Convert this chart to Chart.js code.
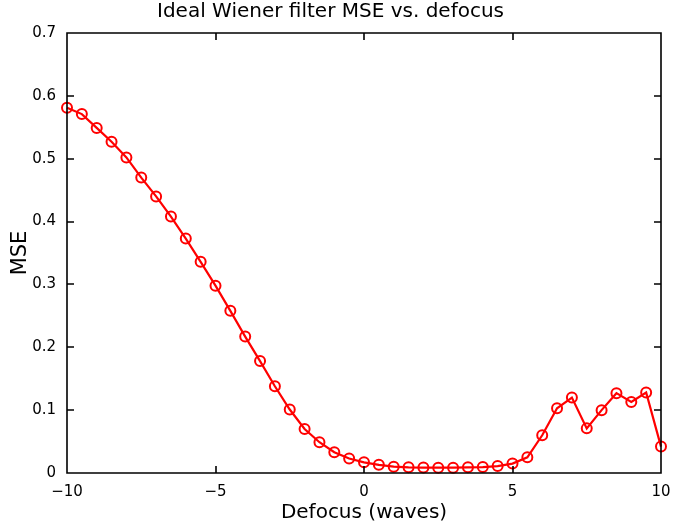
<!DOCTYPE html>
<html>
<head>
<meta charset="utf-8">
<script src="https://cdn.jsdelivr.net/npm/chart.js@4/dist/chart.umd.min.js"></script>
<style>
  html, body { margin: 0; padding: 0; background: #fff; }
  #wrap { width: 673px; height: 525px; }
</style>
</head>
<body>
<div id="wrap"><canvas id="mse-chart" width="673" height="525"></canvas></div>
<script>
// data
const defocus = [
  -10, -9.5, -9, -8.5, -8, -7.5, -7, -6.5, -6, -5.5, -5, -4.5, -4, -3.5,
  -3, -2.5, -2, -1.5, -1, -0.5, 0, 0.5, 1, 1.5, 2, 2.5, 3, 3.5, 4, 4.5,
  5, 5.5, 6, 6.5, 7, 7.5, 8, 8.5, 9, 9.5, 10,
];
const mse = [
  0.581, 0.571, 0.549, 0.527, 0.502, 0.470, 0.440, 0.408, 0.373, 0.336,
  0.298, 0.258, 0.217, 0.178, 0.138, 0.101, 0.070, 0.049, 0.033, 0.023,
  0.017, 0.013, 0.010, 0.009, 0.0087, 0.0085, 0.0085, 0.009, 0.0095, 0.011,
  0.015, 0.025, 0.060, 0.103, 0.120, 0.071, 0.100, 0.127, 0.113, 0.128,
  0.042,
];
const xTicks = [-10, -5, 0, 5, 10];
const yTicks = [0, 0.1, 0.2, 0.3, 0.4, 0.5, 0.6, 0.7];

const font = "'DejaVu Sans', sans-serif";

// matlab-ish box with inward ticks
const boxPlugin = {
  id: "box",
  afterDraw(chart) {
    const ctx = chart.ctx;
    const a = chart.chartArea;
    const xs = chart.scales.x;
    const ys = chart.scales.y;
    ctx.save();
    ctx.strokeStyle = "#000";
    ctx.lineWidth = 1.6;
    ctx.beginPath();
    ctx.rect(a.left, a.top, a.right - a.left, a.bottom - a.top);
    xTicks.forEach((v) => {
      const px = Math.round(xs.getPixelForValue(v));
      ctx.moveTo(px, a.bottom);
      ctx.lineTo(px, a.bottom - 7);
      ctx.moveTo(px, a.top);
      ctx.lineTo(px, a.top + 7);
    });
    yTicks.forEach((v) => {
      const py = Math.round(ys.getPixelForValue(v));
      ctx.moveTo(a.left, py);
      ctx.lineTo(a.left + 7, py);
      ctx.moveTo(a.right, py);
      ctx.lineTo(a.right - 7, py);
    });
    ctx.stroke();
    ctx.restore();
  },
};

const mseChart = new Chart(document.getElementById("mse-chart"), {
  type: "line",
  data: {
    datasets: [
      {
        data: defocus.map((d, i) => ({ x: d, y: mse[i] })),
        borderColor: "#ff0000",
        borderWidth: 2.2,
        pointStyle: "circle",
        pointRadius: 5,
        pointBorderWidth: 2,
        pointBorderColor: "#ff0000",
        pointBackgroundColor: "rgba(0,0,0,0)",
        tension: 0,
        clip: false,
      },
    ],
  },
  options: {
    responsive: false,
    animation: false,
    layout: { padding: { top: 0, right: 12, left: 0, bottom: 0 } },
    plugins: {
      legend: { display: false },
      tooltip: { enabled: false },
      title: {
        display: true,
        text: "Ideal Wiener filter MSE vs. defocus",
        color: "#000",
        font: { family: font, size: 20, weight: "normal" },
        padding: { top: 0, bottom: 9 },
      },
    },
    scales: {
      x: {
        type: "linear",
        min: -10,
        max: 10,
        afterBuildTicks: (s) => { s.ticks = xTicks.map((v) => ({ value: v })); },
        afterFit: (s) => {
          s.height = 52;
          s.paddingLeft = 0;
          s.paddingRight = 0;
        },
        grid: { display: false },
        border: { display: false },
        ticks: {
          color: "#000",
          font: { family: font, size: 15 },
          padding: 2,
          maxRotation: 0,
          callback: (v) => (v < 0 ? "\u2212" + Math.abs(v) : String(v)),
        },
        title: {
          display: true,
          text: "Defocus (waves)",
          color: "#000",
          font: { family: font, size: 20 },
          padding: { top: 0, bottom: 0 },
        },
      },
      y: {
        type: "linear",
        min: 0,
        max: 0.7,
        afterBuildTicks: (s) => { s.ticks = yTicks.map((v) => ({ value: v })); },
        afterFit: (s) => { s.width = 67; },
        grid: { display: false },
        border: { display: false },
        ticks: {
          color: "#000",
          font: { family: font, size: 15 },
          padding: 3,
          callback: (v) => String(Math.round(v * 10) / 10),
        },
        title: {
          display: true,
          text: "MSE",
          color: "#000",
          font: { family: font, size: 21 },
          padding: { top: 8, bottom: 0 },
        },
      },
    },
  },
  plugins: [boxPlugin],
});
</script>
</body>
</html>
